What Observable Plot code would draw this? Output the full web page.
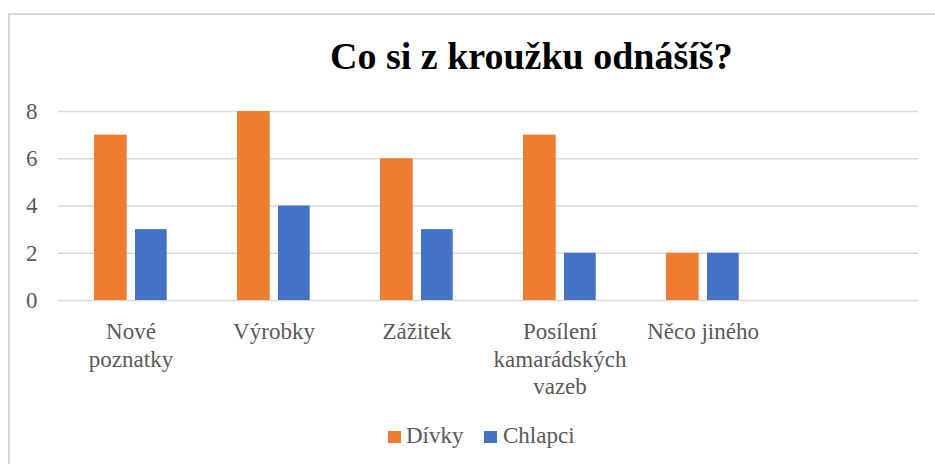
<!DOCTYPE html>
<html>
<head>
<meta charset="utf-8">
<script src="https://cdn.jsdelivr.net/npm/d3@7"></script>
<script src="https://cdn.jsdelivr.net/npm/@observablehq/plot@0.6"></script>
<style>
  html, body { margin: 0; padding: 0; background: #fff; }
  body { width: 935px; height: 464px; overflow: hidden; position: relative; font-family: "Liberation Serif", "Times New Roman", serif; }
  #chart { position: absolute; left: 0; top: 0; }
  #frame { position: absolute; left: 8px; top: 13px; width: 1100px; height: 600px; border: 2px solid #d9d9d9; box-sizing: border-box; pointer-events: none; }
  #title { position: absolute; left: 330px; top: 37px; font-size: 38px; line-height: 38px; font-weight: bold; color: #000; white-space: nowrap; }
  .leg { position: absolute; font-size: 23px; line-height: 23px; color: #595959; white-space: nowrap; font-family: "Liberation Serif", "Times New Roman", serif; }
  .sw { position: absolute; width: 13px; height: 12px; }
</style>
</head>
<body>
<div id="chart"></div>
<div id="title">Co si z kroužku odnášíš?</div>
<div id="legend"></div>
<div id="frame"></div>
<script>
const categories = ["Nové poznatky", "Výrobky", "Zážitek", "Posílení kamarádských vazeb", "Něco jiného", ""];
const categoryLabels = ["Nové\npoznatky", "Výrobky", "Zážitek", "Posílení\nkamarádských\nvazeb", "Něco jiného", ""];
const divky = [7, 8, 6, 7, 2];
const chlapci = [3, 4, 3, 2, 2];
const yTicks = [0, 2, 4, 6, 8];
const seriesNames = ["Dívky", "Chlapci"];
const seriesColors = ["#ED7D31", "#4472C4"];

const dataD = divky.map((v, i) => ({cat: categories[i], v}));
const dataC = chlapci.map((v, i) => ({cat: categories[i], v}));

const chart = Plot.plot({
  width: 935,
  height: 464,
  marginLeft: 58,
  marginRight: 17,
  marginTop: 111,
  marginBottom: 164,
  style: {background: "transparent", color: "#595959", fontFamily: "'Liberation Serif', 'Times New Roman', serif", fontSize: "23px"},
  x: {type: "band", domain: categories, padding: 0},
  y: {domain: [0, 8]},
  marks: [
    Plot.ruleY(yTicks, {stroke: "#d9d9d9", strokeWidth: 1.5}),
    Plot.barY(dataD, {x: "cat", y: "v", fill: seriesColors[0], insetLeft: 35, insetRight: 75.3}),
    Plot.barY(dataC, {x: "cat", y: "v", fill: seriesColors[1], insetLeft: 76, insetRight: 35.3}),
    Plot.axisY({ticks: yTicks, tickSize: 0, tickPadding: 21, label: null, fontSize: 23}),
    Plot.axisX({tickSize: 0, tickPadding: 19, label: null, fontSize: 23, lineHeight: 1.2,
      tickFormat: d => categoryLabels[categories.indexOf(d)]})
  ]
});
document.getElementById("chart").appendChild(chart);

const legend = document.getElementById("legend");
const legPos = [{sw: 388, tx: 406}, {sw: 484, tx: 503}];
seriesNames.forEach((name, i) => {
  const s = document.createElement("div");
  s.className = "sw";
  s.style.left = legPos[i].sw + "px";
  s.style.top = "431px";
  s.style.background = seriesColors[i];
  legend.appendChild(s);
  const t = document.createElement("div");
  t.className = "leg";
  t.style.left = legPos[i].tx + "px";
  t.style.top = "424px";
  t.textContent = name;
  legend.appendChild(t);
});
</script>
</body>
</html>
